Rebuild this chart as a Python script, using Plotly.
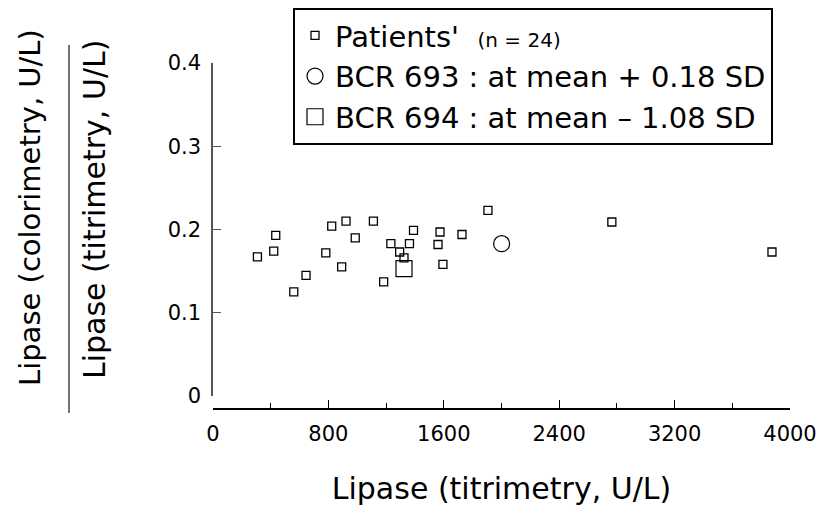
import plotly.graph_objects as go

# Patients' data (titrimetry U/L, ratio colorimetry/titrimetry)
patient_x = [308, 421, 435, 560, 645, 782, 823, 892, 922, 986, 1112, 1183,
             1233, 1294, 1324, 1362, 1390, 1560, 1574, 1594, 1726, 1906, 2765, 3875]
patient_y = [0.167, 0.174, 0.193, 0.125, 0.145, 0.172, 0.204, 0.155, 0.210, 0.190, 0.210, 0.137,
             0.183, 0.173, 0.166, 0.183, 0.199, 0.182, 0.197, 0.158, 0.194, 0.223, 0.209, 0.173]
bcr693_x = [2001]
bcr693_y = [0.183]
bcr694_x = [1324]
bcr694_y = [0.153]

x_ticks = [0, 800, 1600, 2400, 3200, 4000]
x_minor = [400, 1200, 2000, 2800, 3600]
y_ticks = [0, 0.1, 0.2, 0.3, 0.4]
y_labels = ["0", "0.1", "0.2", "0.3", "0.4"]

FONT = "DejaVu Sans"

fig = go.Figure()
fig.add_trace(go.Scatter(
    x=patient_x, y=patient_y, mode="markers",
    name="Patients'  <span style='font-size:20px'>(n = 24)</span>",
    marker=dict(symbol="square-open", size=8, color="black", line=dict(width=1.3)),
))
fig.add_trace(go.Scatter(
    x=bcr693_x, y=bcr693_y, mode="markers",
    name="BCR 693 : at mean + 0.18 SD",
    marker=dict(symbol="circle-open", size=16, color="black", line=dict(width=1.2)),
))
fig.add_trace(go.Scatter(
    x=bcr694_x, y=bcr694_y, mode="markers",
    name="BCR 694 : at mean \u2013 1.08 SD",
    marker=dict(symbol="square-open", size=16, color="black", line=dict(width=1.2)),
))

W, H = 820, 508
L, R, T, B = 213, 30, 63, 99
pw = W - L - R
ph = H - T - B

def px(x):
    return (x - L) / pw

def py(y):
    return (H - B - y) / ph

fig.update_layout(
    width=W, height=H,
    margin=dict(l=L, r=R, t=T, b=B, autoexpand=False),
    paper_bgcolor="white", plot_bgcolor="white",
    font=dict(family=FONT, color="black"),
    showlegend=True,
    legend=dict(
        x=px(293), y=py(8), xanchor="left", yanchor="top",
        bordercolor="black", borderwidth=2, bgcolor="white",
        font=dict(size=29, family=FONT, color="black"),
        itemsizing="trace", tracegroupgap=0,
    ),
    xaxis=dict(
        range=[0, 4000], tickvals=x_ticks, ticktext=[str(v) for v in x_ticks],
        showgrid=False, zeroline=False, showline=True, linecolor="black", linewidth=1.5,
        ticks="inside", ticklen=8, tickcolor="black", tickwidth=1,
        minor=dict(tickvals=x_minor, ticks="inside", ticklen=5,
                   tickcolor="black", tickwidth=1, showgrid=False),
        tickfont=dict(size=21, family=FONT),
        ticklabelstandoff=6,
        anchor="free", position=0, automargin=False,
        title=dict(text="Lipase (titrimetry, U/L)", font=dict(size=30, family=FONT), standoff=32),
    ),
    yaxis=dict(
        range=[0, 0.4], tickvals=y_ticks, ticktext=y_labels,
        domain=[13 / ph, 1], automargin=False,
        showgrid=False, zeroline=False, showline=True, linecolor="#555", linewidth=1.5,
        ticks="inside", ticklen=8, tickcolor="#555", tickwidth=1,
        tickfont=dict(size=21, family=FONT),
        ticklabelstandoff=6,
    ),
)

fig.add_annotation(
    text="Lipase (colorimetry, U/L)", xref="paper", yref="paper",
    x=px(30), y=py(208), textangle=-90, showarrow=False,
    font=dict(size=29, family=FONT, color="black"), xanchor="center", yanchor="middle",
)
fig.add_annotation(
    text="Lipase (titrimetry, U/L)", xref="paper", yref="paper",
    x=px(94), y=py(210), textangle=-90, showarrow=False,
    font=dict(size=30, family=FONT, color="black"), xanchor="center", yanchor="middle",
)
fig.add_shape(
    type="line", xref="paper", yref="paper",
    x0=px(69), x1=px(69), y0=py(45), y1=py(413),
    line=dict(color="#444", width=1.5),
)

fig.write_html("out.html", config={"displayModeBar": False},
               post_script="document.body.style.margin='0';")
